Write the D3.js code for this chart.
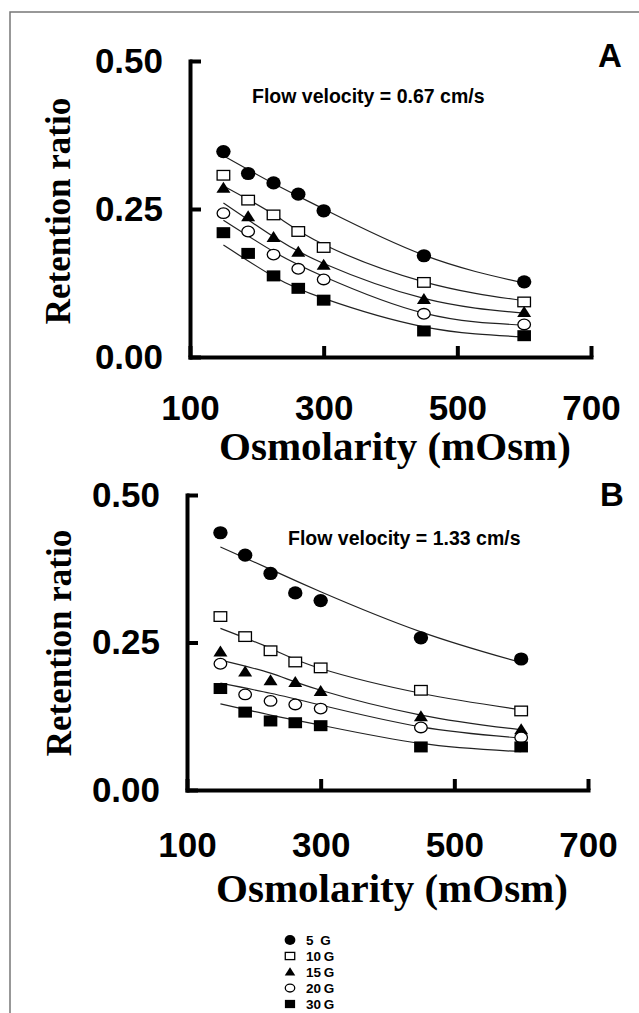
<!DOCTYPE html>
<html><head><meta charset="utf-8">
<script src="https://cdn.jsdelivr.net/npm/d3@7"></script>
<style>html,body{margin:0;padding:0;background:#fff;}svg{display:block;}</style>
</head><body>
<script>
// ---- data ----
const osmolarity = [150, 187, 225, 262, 300, 450, 600];
const series = ["5 G", "10 G", "15 G", "20 G", "30 G"];
const xTicks = [100, 300, 500, 700];
const yTicks = [0, 0.25, 0.5];
const fitX = [150, 225, 300, 450, 600];

// Panel A (flow velocity 0.67 cm/s)
const a5  = [0.347, 0.310, 0.294, 0.275, 0.247, 0.171, 0.127];
const a10 = [0.307, 0.265, 0.240, 0.212, 0.185, 0.126, 0.093];
const a15 = [0.285, 0.237, 0.202, 0.177, 0.155, 0.097, 0.075];
const a20 = [0.243, 0.212, 0.173, 0.149, 0.131, 0.073, 0.055];
const a30 = [0.210, 0.175, 0.137, 0.116, 0.096, 0.044, 0.036];
const aFit5  = [0.340, 0.293, 0.250, 0.172, 0.125];
const aFit10 = [0.289, 0.241, 0.190, 0.127, 0.095];
const aFit15 = [0.260, 0.203, 0.158, 0.099, 0.074];
const aFit20 = [0.231, 0.178, 0.136, 0.074, 0.054];
const aFit30 = [0.189, 0.136, 0.099, 0.051, 0.034];

// Panel B (flow velocity 1.33 cm/s)
const b5  = [0.436, 0.398, 0.367, 0.334, 0.321, 0.258, 0.222];
const b10 = [0.294, 0.260, 0.236, 0.217, 0.207, 0.169, 0.134];
const b15 = [0.234, 0.200, 0.185, 0.182, 0.167, 0.124, 0.102];
const b20 = [0.214, 0.162, 0.151, 0.145, 0.138, 0.106, 0.089];
const b30 = [0.172, 0.132, 0.117, 0.114, 0.109, 0.073, 0.073];
const bFit5  = [0.412, 0.374, 0.336, 0.268, 0.216];
const bFit10 = [0.274, 0.240, 0.206, 0.164, 0.136];
const bFit15 = [0.220, 0.198, 0.169, 0.127, 0.102];
const bFit20 = [0.181, 0.164, 0.144, 0.107, 0.088];
const bFit30 = [0.146, 0.127, 0.110, 0.079, 0.065];

const W = 639, H = 1013;
const svg = d3.select("body").append("svg").attr("width", W).attr("height", H);

// page frame
svg.append("path").attr("d", `M639,12H10V${H}`).attr("fill", "none").attr("stroke", "#777").attr("stroke-width", 1.5);

const sans = "'Liberation Sans', Arial, Helvetica, sans-serif";
const serif = "'Liberation Serif', 'Times New Roman', serif";
const markerTypes = ["fcircle", "osquare", "ftriangle", "ocircle", "fsquare"];

function drawMarker(g, type, cx, cy, s) {
  s = s || 1;
  if (type === "fcircle") g.append("ellipse").attr("cx", cx).attr("cy", cy).attr("rx", 7.2 * s).attr("ry", 6.6 * s).attr("fill", "#000");
  else if (type === "ocircle") g.append("ellipse").attr("cx", cx).attr("cy", cy).attr("rx", 6.3 * s).attr("ry", 5.3 * s).attr("fill", "#fff").attr("stroke", "#000").attr("stroke-width", 1.3);
  else if (type === "osquare") g.append("rect").attr("x", cx - 6.3 * s).attr("y", cy - 4.8 * s).attr("width", 12.6 * s).attr("height", 9.6 * s).attr("fill", "#fff").attr("stroke", "#000").attr("stroke-width", 1.3);
  else if (type === "fsquare") g.append("rect").attr("x", cx - 6.8 * s).attr("y", cy - 5.5 * s).attr("width", 13.6 * s).attr("height", 11 * s).attr("fill", "#000");
  else if (type === "ftriangle") g.append("path").attr("d", `M${cx},${cy - 6.5 * s}L${cx + 7 * s},${cy + 4.5 * s}L${cx - 7 * s},${cy + 4.5 * s}Z`).attr("fill", "#000");
}

function panel(cfg) {
  const x = d3.scaleLinear().domain([100, 700]).range(cfg.xr);
  const y = d3.scaleLinear().domain([0, 0.5]).range(cfg.yr);
  const g = svg.append("g");

  // axes
  const ax = g.append("g").attr("transform", `translate(0,${cfg.yr[0]})`)
    .call(d3.axisBottom(x).tickValues(xTicks).tickSizeInner(-11).tickSizeOuter(0).tickPadding(cfg.xpad).tickFormat(d3.format("d")));
  const ay = g.append("g").attr("transform", `translate(${cfg.xr[0]},0)`)
    .call(d3.axisLeft(y).tickValues(yTicks).tickSizeInner(-11).tickSizeOuter(0).tickPadding(27).tickFormat(d3.format(".2f")));
  [ax, ay].forEach(a => {
    a.select(".domain").attr("stroke", "#000").attr("stroke-width", 4).attr("stroke-linecap", "square");
    a.selectAll(".tick line").attr("stroke", "#000").attr("stroke-width", 4);
    a.selectAll(".tick text").attr("fill", "#000").style("font-family", sans).style("font-weight", "bold").style("font-size", "35px");
  });

  // axis titles
  g.append("text").attr("x", cfg.xtitleX).attr("y", cfg.xtitleY).attr("text-anchor", "middle")
    .style("font-family", serif).style("font-weight", "bold").style("font-size", "41px").text("Osmolarity (mOsm)");
  g.append("text").attr("transform", `translate(${cfg.ytitleX},${cfg.ytitleY}) rotate(-90)`).attr("text-anchor", "middle")
    .style("font-family", serif).style("font-weight", "bold").style("font-size", "35px").text("Retention ratio");

  // panel letter & annotation
  g.append("text").attr("x", cfg.letterX).attr("y", cfg.letterY).attr("text-anchor", "middle")
    .style("font-family", sans).style("font-weight", "bold").style("font-size", "33px").text(cfg.letter);
  g.append("text").attr("x", cfg.noteX).attr("y", cfg.noteY)
    .style("font-family", sans).style("font-weight", "bold").style("font-size", "19.5px").text(cfg.note);

  // fitted curves
  const line = d3.line().x((d, i) => x(fitX[i])).y(d => y(d)).curve(d3.curveNatural);
  cfg.fits.forEach(f => g.append("path").attr("d", line(f)).attr("fill", "none").attr("stroke", "#222").attr("stroke-width", 1.2));

  // points
  cfg.data.forEach((s, k) => s.forEach((v, i) => drawMarker(g, markerTypes[k], x(osmolarity[i]), y(v))));
}

panel({
  xr: [190, 591], yr: [357, 61], xpad: 38,
  xtitleX: 395, xtitleY: 460, ytitleX: 70, ytitleY: 211,
  letter: "A", letterX: 610, letterY: 67,
  note: "Flow velocity = 0.67 cm/s", noteX: 252, noteY: 103,
  data: [a5, a10, a15, a20, a30],
  fits: [aFit5, aFit10, aFit15, aFit20, aFit30]
});
panel({
  xr: [187, 588], yr: [790, 495], xpad: 42,
  xtitleX: 392, xtitleY: 902, ytitleX: 71, ytitleY: 643,
  letter: "B", letterX: 612, letterY: 506,
  note: "Flow velocity = 1.33 cm/s", noteX: 288, noteY: 545,
  data: [b5, b10, b15, b20, b30],
  fits: [bFit5, bFit10, bFit15, bFit20, bFit30]
});

// legend
const leg = svg.append("g");
const legY = d3.scaleBand().domain(series).range([932, 1012]);
series.forEach((s, k) => {
  const cy = legY(s) + legY.bandwidth() / 2;
  drawMarker(leg, markerTypes[k], 290, cy, 0.75);
  leg.append("text").attr("x", 306).attr("y", cy + 5)
    .style("font-family", sans).style("font-weight", "bold").style("font-size", "13.5px").text(s.replace(" ", k === 0 ? "\u2002" : "\u2009"));
});
</script>
</body></html>
